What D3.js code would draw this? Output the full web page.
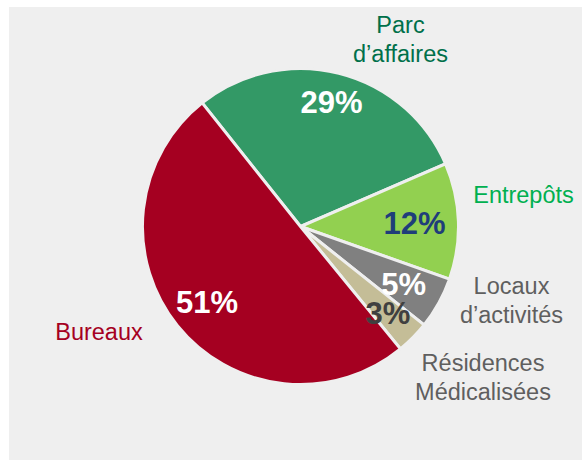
<html>
<head>
<script src="https://d3js.org/d3.v7.min.js"></script>
<style>
  body { margin: 0; background: #ffffff; }
  svg { display: block; font-family: "Liberation Sans", Arial, sans-serif; }
</style>
</head>
<body>
<div id="chart"></div>
<script>
// categories, in drawing order (clockwise from the top-left split)
const categories = ["Parc d\u2019affaires", "Entrep\u00f4ts", "Locaux d\u2019activit\u00e9s", "R\u00e9sidences M\u00e9dicalis\u00e9es", "Bureaux"];
// share of each slice
const shares = [29.2, 11.9, 5.3, 3.4, 50.2];
// percentage labels printed on the slices
const pctLabels = ["29%", "12%", "5%", "3%", "51%"];
// category text lines
const nameLines = [["Parc", "d\u2019affaires"], ["Entrep\u00f4ts"], ["Locaux", "d\u2019activit\u00e9s"], ["R\u00e9sidences", "M\u00e9dicalis\u00e9es"], ["Bureaux"]];

const sliceColors = ["#339966", "#92d050", "#808080", "#c4bd97", "#a50021"];
const nameColors = ["#00704a", "#00b050", "#5f5f5f", "#5f5f5f", "#a50021"];
const pctColors = ["#ffffff", "#1f3d7a", "#ffffff", "#404040", "#ffffff"];

const width = 582, height = 461;
const cx = 300.5, cy = 226.5, radius = 158;
const bg = "#efefef";

const data = categories.map((c, i) => ({ name: c, value: shares[i], i: i }));

const svg = d3.select("#chart").append("svg")
  .attr("width", width)
  .attr("height", height);

svg.append("rect")
  .attr("x", 9).attr("y", 7)
  .attr("width", width - 9).attr("height", 453)
  .attr("fill", bg);

const startA = -38.5 * Math.PI / 180;
const pie = d3.pie()
  .sort(null)
  .value(d => d.value)
  .startAngle(startA)
  .endAngle(startA + 2 * Math.PI);

const arcs = pie(data);
const arc = d3.arc().innerRadius(0).outerRadius(radius);

const g = svg.append("g").attr("transform", "translate(" + cx + "," + cy + ")");

g.selectAll("path.slice")
  .data(arcs)
  .enter()
  .append("path")
  .attr("class", "slice")
  .attr("d", arc)
  .attr("fill", d => sliceColors[d.data.i])
  .attr("stroke", bg)
  .attr("stroke-width", 3)
  .attr("stroke-linejoin", "miter");

// percent labels sit near the slice middle angle
const labelR = [128, 114, 118, 123, 120];
g.selectAll("text.pct")
  .data(arcs)
  .enter()
  .append("text")
  .attr("class", "pct")
  .attr("transform", d => {
    const r = labelR[d.data.i];
    const c = d3.arc().innerRadius(r).outerRadius(r).centroid(d);
    return "translate(" + c[0] + "," + (c[1] + 11) + ")";
  })
  .attr("text-anchor", "middle")
  .style("font-size", "31px")
  .style("font-weight", "bold")
  .attr("fill", d => pctColors[d.data.i])
  .text(d => pctLabels[d.data.i]);

// category names placed outside the pie (offsets from centre, first baseline)
const namePos = [[100, -193.5], [223, -23.5], [211, 67.5], [182.5, 144.5], [-201.5, 113.5]];
const lineH = 28.5;
const names = g.selectAll("text.name")
  .data(data)
  .enter()
  .append("text")
  .attr("class", "name")
  .attr("text-anchor", "middle")
  .style("font-size", "23.5px")
  .attr("fill", d => nameColors[d.i]);

names.selectAll("tspan")
  .data(d => nameLines[d.i].map(t => ({ t: t, i: d.i })))
  .enter()
  .append("tspan")
  .attr("x", d => namePos[d.i][0])
  .attr("y", (d, k) => namePos[d.i][1] + k * lineH)
  .text(d => d.t);
</script>
</body>
</html>
